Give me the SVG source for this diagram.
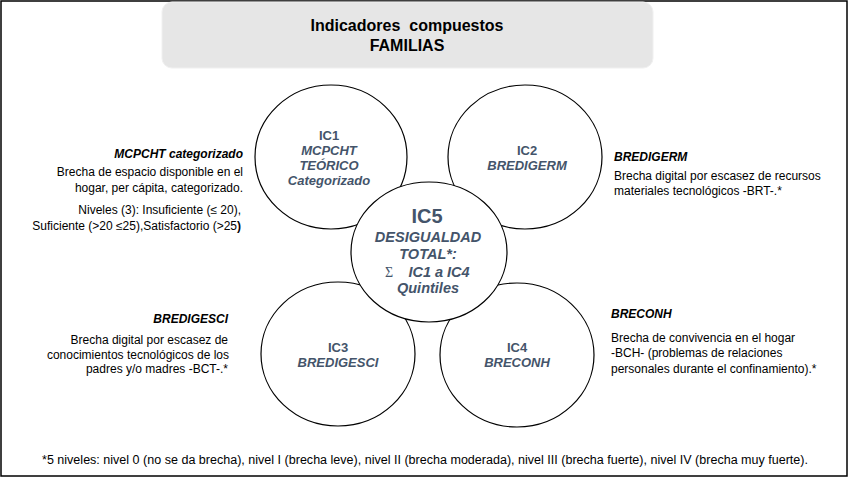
<svg xmlns="http://www.w3.org/2000/svg" width="849" height="478" viewBox="0 0 849 478">
<style>
.circ{fill:#fff;stroke:#000;stroke-width:1.2}
.lbl{font-family:"Liberation Sans",Arial,sans-serif;font-weight:bold;fill:#44546a;text-anchor:middle}
.it{font-style:italic}
.side{font-family:"Liberation Sans",Arial,sans-serif;font-size:12px;fill:#000}
.head{font-weight:bold;font-style:italic}
.ttl{font-family:"Liberation Sans",Arial,sans-serif;font-size:16px;font-weight:bold;text-anchor:middle;fill:#000}
</style>
<rect x="1" y="1" width="846" height="475" fill="#fff" stroke="#000" stroke-width="1.5"/>
<g id="title">
<rect x="162" y="2" width="491" height="66" rx="10" fill="#e6e6e6" stroke="#f0f0f0" stroke-width="1"/>
<text class="ttl" x="407" y="31">Indicadores&#160; compuestos</text>
<text class="ttl" x="407" y="51">FAMILIAS</text>
</g>
<g id="connectors"></g>
<g id="ic1">
<ellipse class="circ" cx="331" cy="157" rx="76" ry="72"/>
<text class="lbl" font-size="13" x="329" y="140">IC1</text>
<text class="lbl it" font-size="13" x="329" y="155">MCPCHT</text>
<text class="lbl it" font-size="13" x="329" y="170">TEÓRICO</text>
<text class="lbl it" font-size="13" x="329" y="185">Categorizado</text>
</g>
<g id="ic2">
<ellipse class="circ" cx="525" cy="157" rx="77" ry="72"/>
<text class="lbl" font-size="13" x="527" y="155">IC2</text>
<text class="lbl it" font-size="13" x="527" y="170">BREDIGERM</text>
</g>
<g id="ic3">
<ellipse class="circ" cx="338" cy="354" rx="77" ry="72"/>
<text class="lbl" font-size="13" x="338" y="352">IC3</text>
<text class="lbl it" font-size="13" x="338" y="367">BREDIGESCI</text>
</g>
<g id="ic4">
<ellipse class="circ" cx="517" cy="355" rx="77" ry="72"/>
<text class="lbl" font-size="13" x="517" y="352">IC4</text>
<text class="lbl it" font-size="13" x="517" y="367">BRECONH</text>
</g>
<g id="ic5">
<ellipse class="circ" cx="429" cy="252" rx="78" ry="70"/>
<text class="lbl" font-size="20" x="427" y="223">IC5</text>
<text class="lbl it" font-size="14.5" x="428" y="242">DESIGUALDAD</text>
<text class="lbl it" font-size="14.5" x="428" y="259">TOTAL*:</text>
<text font-family="Liberation Serif,serif" font-size="14" fill="#44546a" x="385" y="277">Σ</text>
<text class="lbl it" font-size="14.5" x="439" y="277">IC1 a IC4</text>
<text class="lbl it" font-size="14.5" x="428" y="293">Quintiles</text>
</g>
<g id="desc-mcpcht" class="side" text-anchor="end">
<text class="head" x="243" y="158">MCPCHT categorizado</text>
<text x="243" y="176">Brecha de espacio disponible en el</text>
<text x="243" y="192">hogar, per cápita, categorizado.</text>
<text x="241" y="214">Niveles (3): Insuficiente (≤ 20),</text>
<text x="241" y="230">Suficiente (&gt;20 ≤25),Satisfactorio (&gt;25<tspan font-weight="bold">)</tspan></text>
</g>
<g id="desc-bredigerm" class="side">
<text class="head" x="614" y="161">BREDIGERM</text>
<text x="614" y="180">Brecha digital por escasez de recursos</text>
<text x="614" y="195">materiales tecnológicos -BRT-.*</text>
</g>
<g id="desc-bredigesci" class="side" text-anchor="end">
<text class="head" x="228" y="323">BREDIGESCI</text>
<text x="228" y="344">Brecha digital por escasez de</text>
<text x="229" y="359">conocimientos tecnológicos de los</text>
<text x="228" y="373">padres y/o madres -BCT-.*</text>
</g>
<g id="desc-breconh" class="side">
<text class="head" x="611" y="318">BRECONH</text>
<text x="611" y="342">Brecha de convivencia en el hogar</text>
<text x="611" y="357">-BCH- (problemas de relaciones</text>
<text x="611" y="373">personales durante el confinamiento).*</text>
</g>
<g id="footnote">
<text x="42" y="464" font-family="Liberation Sans,Arial,sans-serif" font-size="12.5" fill="#000" textLength="766" lengthAdjust="spacingAndGlyphs">*5 niveles: nivel 0 (no se da brecha), nivel I (brecha leve), nivel II (brecha moderada), nivel III (brecha fuerte), nivel IV (brecha muy fuerte).</text>
</g>
</svg>
